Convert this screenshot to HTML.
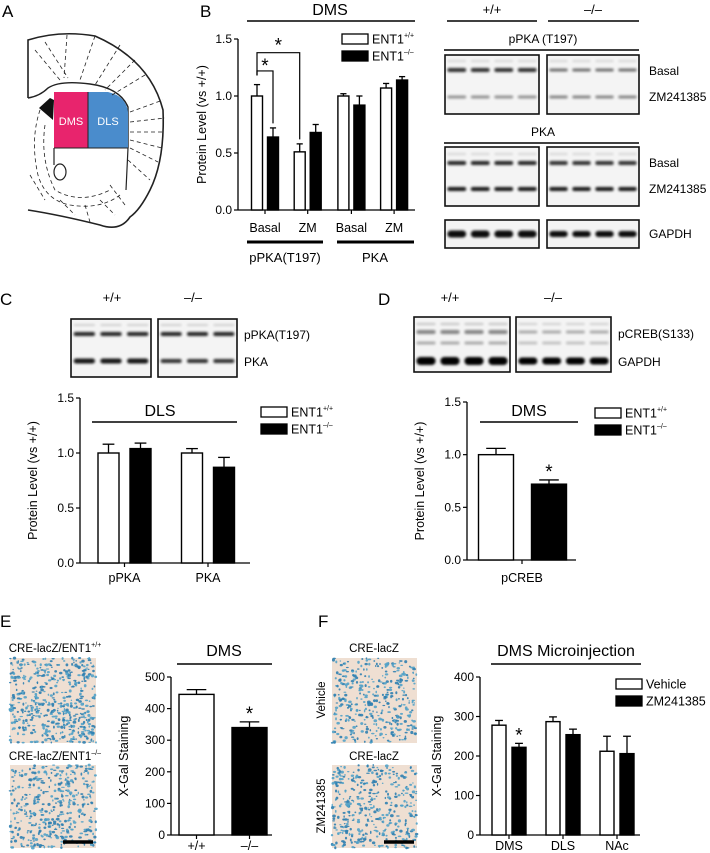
<!DOCTYPE html>
<html><head><meta charset="utf-8">
<style>
html,body{margin:0;padding:0;background:#fff;}
svg{display:block;font-family:"Liberation Sans",Arial,sans-serif;}
</style></head>
<body>
<svg id="fig" width="710" height="853" viewBox="0 0 710 853" xmlns="http://www.w3.org/2000/svg">
<defs>
<filter id="blur1" x="-20%" y="-80%" width="140%" height="260%"><feGaussianBlur stdDeviation="1.3"/></filter>
</defs>

<text x="2" y="17" font-size="17">A</text>
<text x="200" y="17" font-size="17">B</text>
<text x="0" y="305" font-size="17">C</text>
<text x="378" y="305" font-size="17">D</text>
<text x="0" y="627" font-size="17">E</text>
<text x="318" y="627" font-size="17">F</text>

<g fill="none" stroke="#222">
  <path d="M28,98 L28,40 Q60,30 95,36 Q150,60 163,110 Q165,160 150,190 Q140,210 130,217 Q120,232 100,225 Q60,215 28,210" stroke-width="1.6"/>
  <path d="M28,98 Q40,96 48,88 Q60,80 90,84 Q120,88 128,107 L128,148" stroke-width="1.4"/>
  <rect x="54" y="92" width="34" height="56" fill="#e8246d" stroke="none"/>
  <path d="M88,92 L108,92 Q126,96 128,112 L128,148 L88,148 Z" fill="#4a8ccc" stroke="none"/>
  <path d="M54,148 L128,148 M88,92 L88,148" stroke-width="1"/>
  <path d="M39,108 L50,98 L54,100 L53,120 Z" fill="#111" stroke="none"/>
  <ellipse cx="60" cy="172" rx="6" ry="8" stroke-width="1.2"/>
  <path d="M54,148 L54,165 M128,148 L126,190" stroke-width="1.2"/>
  <g stroke-dasharray="4,3" stroke-width="0.8">
    <path d="M35,50 L60,80 M45,42 L68,78 M67,35 L64,78 M95,36 L80,80 M120,45 L95,85 M135,60 L105,90 M145,75 L112,95"/>
    <path d="M130,112 L163,100 M130,122 L165,118 M130,132 L165,132 M130,140 L162,148 M130,148 L158,162 M128,160 L150,180"/>
    <path d="M40,110 Q30,140 38,175 Q45,200 70,205 Q100,210 120,195 M45,125 Q40,160 55,190 Q80,205 110,190"/>
    <path d="M30,175 L45,200 M60,200 L75,215 M85,205 L90,222 M100,200 L115,215 M110,185 L125,205"/>
  </g>
  <text x="71" y="125" font-size="11" fill="#fff" stroke="none" text-anchor="middle">DMS</text>
  <text x="108" y="125" font-size="11" fill="#fff" stroke="none" text-anchor="middle">DLS</text>
</g>

<g id="charts"></g>
<g id="blots"></g>
<g id="micro"></g>
</svg>

<script>
const bCategories = ['Basal','ZM','Basal','ZM'];
const bWT = [1.0, 0.51, 1.0, 1.07];
const bWTErr = [0.10, 0.07, 0.02, 0.04];
const bKO = [0.64, 0.68, 0.92, 1.14];
const bKOErr = [0.08, 0.07, 0.08, 0.03];
const bTicks = ['0.0','0.5','1.0','1.5'];

const cCategories = ['pPKA','PKA'];
const cWT = [1.0, 1.0];
const cWTErr = [0.08, 0.04];
const cKO = [1.04, 0.87];
const cKOErr = [0.05, 0.09];
const cTicks = ['0.0','0.5','1.0','1.5'];

const dCategories = ['pCREB'];
const dWT = [1.0];
const dWTErr = [0.06];
const dKO = [0.72];
const dKOErr = [0.04];
const dTicks = ['0.0','0.5','1.0','1.5'];

const eCategories = ['+/+','\u2013/\u2013'];
const eValues = [445, 340];
const eErr = [15, 18];
const eTicks = ['0','100','200','300','400','500'];

const fCategories = ['DMS','DLS','NAc'];
const fVehicle = [278, 287, 212];
const fVehicleErr = [12, 12, 38];
const fZM = [222, 254, 206];
const fZMErr = [10, 14, 44];
const fTicks = ['0','100','200','300','400'];

const NS = 'http://www.w3.org/2000/svg';
const charts = document.getElementById('charts');
function mk(tag, attrs, parent, txt){
  const e = document.createElementNS(NS, tag);
  for (const k in attrs) e.setAttribute(k, attrs[k]);
  if (txt !== undefined) e.textContent = txt;
  (parent||charts).appendChild(e);
  return e;
}

function axes(c){
  const g = mk('g', {});
  
  
  const yv = v => c.y0 - v / c.max * (c.y0 - c.y1);
  mk('line', {x1:c.ax, y1:c.y1, x2:c.ax, y2:c.y0, stroke:'#000','stroke-width':1.3}, g);
  mk('line', {x1:c.ax, y1:c.y0, x2:c.ax2, y2:c.y0, stroke:'#000','stroke-width':1.3}, g);
  c.ticks.forEach(t => {
    const y = yv(parseFloat(t));
    mk('line', {x1:c.ax-4, y1:y, x2:c.ax, y2:y, stroke:'#000','stroke-width':1.2}, g);
    const tl = mk('text', {x:c.ax-6, y:y+4, 'font-size':12, 'text-anchor':'end'}, g, t);
    
    
  });
  const yt = mk('text', {x:c.ylx, y:(c.y0+c.y1)/2, 'font-size':12.5, 'text-anchor':'middle', transform:`rotate(-90 ${c.ylx} ${(c.y0+c.y1)/2})`}, g, c.ytitle);
  
  
  c.cats.forEach((cat, i) => {
    const x = c.cx(i);
    mk('line', {x1:x, y1:c.y0, x2:x, y2:c.y0+4, stroke:'#000','stroke-width':1.2}, g);
    const xl = mk('text', {x:x, y:c.xly, 'font-size':12.5, 'text-anchor':'middle'}, g, cat);
    
    
  });
  return yv;
}

function bar(c, yv, x, w, v, err, black, nm){
  const y = yv(v), ye = yv(v + err);
  const l = mk('line', {x1:x, y1:y, x2:x, y2:ye, stroke:'#000','stroke-width':1.3});
  
  
  mk('line', {x1:x-w*0.28, y1:ye, x2:x+w*0.28, y2:ye, stroke:'#000','stroke-width':1.3});
  const r = mk('rect', {x:x-w/2, y:y, width:w, height:c.y0-y, fill:black?'#000':'#fff', stroke:'#000','stroke-width':1.4});
  
  
}

function legend(x, y, h, labels, supers, nm){
  labels.forEach((lb, i) => {
    const yy = y + i * (h + 7);
    const r = mk('rect', {x:x, y:yy, width:26, height:h, fill:i?'#000':'#fff', stroke:'#000','stroke-width':1.3});
    
    
    const t = mk('text', {x:x+30, y:yy+h-0.5, 'font-size':12.5}, undefined, lb);
    
    
    if (supers) { mk('tspan', {'font-size':7, dy:-6}, t, supers[i]); }
  });
}

function title(cx, y, lx1, lx2, ly, txt, nm){
  const t = mk('text', {x:cx, y:y, 'font-size':16, 'text-anchor':'middle'}, undefined, txt);
  
  
  mk('line', {x1:lx1, y1:ly, x2:lx2, y2:ly, stroke:'#000','stroke-width':1.6});
}
function star(x, y){ mk('text', {x:x, y:y+3, 'font-size':19, 'text-anchor':'middle'}, undefined, '*'); }

(function(){
  const c = {name:'b-chart', ax:238, ax2:415, y0:210, y1:39, max:1.5, ticks:bTicks, ylx:206, ytitle:'Protein Level (vs +/+)', cats:bCategories, cx:i=>265+i*42.7+(i>=2?1:0), xly:232};
  const yv = axes(c);
  bCategories.forEach((_, i) => {
    bar(c, yv, c.cx(i)-8, 11, bWT[i], bWTErr[i], false, 'b-bar-wt-' + i);
    bar(c, yv, c.cx(i)+8, 11, bKO[i], bKOErr[i], true, 'b-bar-ko-' + i);
  });
  title(330, 15, 247, 415, 21, 'DMS', 'b-chart');
  legend(342, 34, 10, ['ENT1','ENT1'], ['+/+','\u2013/\u2013'], 'b-chart');
  mk('line', {x1:247, y1:242, x2:323, y2:242, stroke:'#000','stroke-width':3});
  mk('line', {x1:337, y1:242, x2:414, y2:242, stroke:'#000','stroke-width':3});
  mk('text', {x:285, y:262, 'font-size':13, 'text-anchor':'middle'}, undefined, 'pPKA(T197)');
  mk('text', {x:375, y:262, 'font-size':13, 'text-anchor':'middle'}, undefined, 'PKA');
  const x1 = c.cx(0)-8, x2 = c.cx(0)+8, x3 = c.cx(1)-8;
  mk('path', {d:`M${x1},${yv(1.18)} L${x1},${yv(1.38)} L${x3},${yv(1.38)} L${x3},${yv(0.62)}`, fill:'none', stroke:'#000','stroke-width':1.2});
  mk('path', {d:`M${x1},${yv(1.18)} L${x1},${yv(1.22)} L${x2},${yv(1.22)} L${x2},${yv(0.76)}`, fill:'none', stroke:'#000','stroke-width':1.2});
  star((x1+x2)/2, yv(1.22)-2);
  star((x1+x3)/2, yv(1.38)-4);
})();

(function(){
  const c = {name:'c-chart', ax:80, ax2:250, y0:563, y1:398, max:1.5, ticks:cTicks, ylx:37, ytitle:'Protein Level (vs +/+)', cats:cCategories, cx:i=>124.5+i*83.5, xly:582};
  const yv = axes(c);
  cCategories.forEach((_, i) => {
    bar(c, yv, c.cx(i)-16, 21, cWT[i], cWTErr[i], false, 'c-bar-wt-' + i);
    bar(c, yv, c.cx(i)+16, 21, cKO[i], cKOErr[i], true, 'c-bar-ko-' + i);
  });
  title(160, 416, 92, 237, 422, 'DLS', 'c-chart');
  legend(261, 407, 10, ['ENT1','ENT1'], ['+/+','\u2013/\u2013'], 'c-chart');
})();

(function(){
  const c = {name:'d-chart', ax:467, ax2:576, y0:560, y1:402, max:1.5, ticks:dTicks, ylx:424, ytitle:'Protein Level (vs +/+)', cats:dCategories, cx:i=>522+i*50, xly:582};
  const yv = axes(c);
  dCategories.forEach((_, i) => {
    bar(c, yv, c.cx(i)-26, 35, dWT[i], dWTErr[i], false, 'd-bar-wt-' + i);
    bar(c, yv, c.cx(i)+27, 35, dKO[i], dKOErr[i], true, 'd-bar-ko-' + i);
    star(c.cx(i)+27, yv(dKO[i]+dKOErr[i])-5);
  });
  title(529, 416, 480, 578, 422, 'DMS', 'd-chart');
  legend(595, 408, 10, ['ENT1','ENT1'], ['+/+','\u2013/\u2013'], 'd-chart');
})();

(function(){
  const c = {name:'e-chart', ax:171, ax2:272, y0:835, y1:677, max:500, ticks:eTicks, ylx:128, ytitle:'X-Gal Staining', cats:eCategories, cx:i=>196.5+i*53, xly:850};
  const yv = axes(c);
  eCategories.forEach((_, i) => {
    bar(c, yv, c.cx(i), 35, eValues[i], eErr[i], i===1, 'e-bar-' + i);
  });
  star(c.cx(1), yv(eValues[1]+eErr[1])-5);
  title(224, 656, 177, 272, 664, 'DMS', 'e-chart');
})();

(function(){
  const c = {name:'f-chart', ax:480, ax2:640, y0:835, y1:677, max:400, ticks:fTicks, ylx:441, ytitle:'X-Gal Staining', cats:fCategories, cx:i=>509+i*54, xly:850};
  const yv = axes(c);
  fCategories.forEach((_, i) => {
    bar(c, yv, c.cx(i)-10, 14, fVehicle[i], fVehicleErr[i], false, 'f-bar-vehicle-' + i);
    bar(c, yv, c.cx(i)+10, 14, fZM[i], fZMErr[i], true, 'f-bar-zm-' + i);
  });
  star(c.cx(0)+10, yv(fZM[0]+fZMErr[0])-5);
  title(566, 656, 491, 641, 664, 'DMS Microinjection', 'f-chart');
  legend(616, 679, 10, ['Vehicle','ZM241385'], null, 'f-chart');
})();

const blots = document.getElementById('blots');
function txt(x, y, s, size, anchor, nm){
  const t = mk('text', {x:x, y:y, 'font-size':size, 'text-anchor':anchor||'start'}, blots, s);
  
  
  return t;
}
function blot(x, y, w, h, lanes, bands, nm){
  const g = mk('g', {}, blots);
  
  
  mk('rect', {x:x, y:y, width:w, height:h, fill:'#f4f4f4', stroke:'#111', 'stroke-width':1.6}, g);
  const lw = w / lanes;
  bands.forEach(b => {
    for (let i = 0; i < lanes; i++){
      const bx = x + lw*i + lw*0.1;
      mk('rect', {x:bx, y:y+b.y-b.h/2, width:lw*0.8, height:b.h, rx:b.h/2, fill:'#000', opacity:b.o, filter:'url(#blur1)'}, g);
    }
  });
}
txt(492, 14, '+/+', 13, 'middle', 'b-blot-wt-label');
txt(593, 14, '\u2013/\u2013', 13, 'middle', 'b-blot-ko-label');
mk('line', {x1:447, y1:21, x2:537, y2:21, stroke:'#000', 'stroke-width':1.6}, blots);
mk('line', {x1:548, y1:21, x2:639, y2:21, stroke:'#000', 'stroke-width':1.6}, blots);
txt(543, 43, 'pPKA (T197)', 12, 'middle', 'b-blot-ppka-title');
mk('line', {x1:444, y1:50, x2:639, y2:50, stroke:'#000', 'stroke-width':1.6}, blots);
blot(445, 55, 94, 59, 4, [{y:6,h:2,o:0.12},{y:15,h:4,o:0.8},{y:42,h:3,o:0.4}], 'b-blot-ppka-wt');
blot(547, 55, 92, 59, 4, [{y:6,h:2,o:0.12},{y:15,h:3,o:0.55},{y:42,h:3,o:0.45}], 'b-blot-ppka-ko');
txt(649, 75, 'Basal', 12, 'start', 'b-blot-label-basal');
txt(649, 101, 'ZM241385', 12, 'start', 'b-blot-label-zm');
txt(543, 136, 'PKA', 12, 'middle', 'b-blot-pka-title');
mk('line', {x1:444, y1:143, x2:639, y2:143, stroke:'#000', 'stroke-width':1.6}, blots);
blot(445, 147, 94, 59, 4, [{y:7,h:2,o:0.12},{y:16,h:4,o:0.85},{y:42,h:4,o:0.9}], 'b-blot-pka-wt');
blot(547, 147, 92, 59, 4, [{y:7,h:2,o:0.12},{y:16,h:4,o:0.8},{y:42,h:4,o:0.9}], 'b-blot-pka-ko');
txt(649, 167, 'Basal', 12, 'start', 'b-blot-label-basal-2');
txt(649, 193, 'ZM241385', 12, 'start', 'b-blot-label-zm-2');
blot(445, 220, 94, 28, 4, [{y:14,h:7,o:0.95}], 'b-blot-gapdh-wt');
blot(547, 220, 92, 28, 4, [{y:14,h:6,o:0.95}], 'b-blot-gapdh-ko');
txt(649, 238, 'GAPDH', 12, 'start', 'b-blot-label-gapdh');

txt(112, 302, '+/+', 13, 'middle', 'c-blot-wt-label');
txt(193, 302, '\u2013/\u2013', 13, 'middle', 'c-blot-ko-label');
blot(71, 319, 80, 58, 3, [{y:6,h:2,o:0.15},{y:15,h:4,o:0.85},{y:42,h:5,o:0.9}], 'c-blot-wt');
blot(158, 319, 79, 58, 3, [{y:6,h:2,o:0.15},{y:15,h:4,o:0.85},{y:42,h:4,o:0.8}], 'c-blot-ko');
txt(244, 339, 'pPKA(T197)', 12, 'start', 'c-blot-label-ppka');
txt(244, 366, 'PKA', 12, 'start', 'c-blot-label-pka');

txt(450, 302, '+/+', 13, 'middle', 'd-blot-wt-label');
txt(553, 302, '\u2013/\u2013', 13, 'middle', 'd-blot-ko-label');
blot(414, 317, 96, 55, 4, [{y:7,h:2,o:0.2},{y:15,h:4,o:0.45},{y:26,h:3,o:0.3},{y:44,h:8,o:1}], 'd-blot-wt');
blot(516, 317, 95, 55, 4, [{y:7,h:2,o:0.15},{y:15,h:3,o:0.3},{y:26,h:3,o:0.2},{y:44,h:7,o:1}], 'd-blot-ko');
txt(618, 338, 'pCREB(S133)', 12, 'start', 'd-blot-label-pcreb');
txt(618, 366, 'GAPDH', 12, 'start', 'd-blot-label-gapdh');

const micro = document.getElementById('micro');
let seed = 7;
function rnd(){ seed = (seed * 16807) % 2147483647; return (seed - 1) / 2147483646; }
function micrograph(x, y, w, h, n, nm, bar){
  const g = mk('g', {}, micro);
  
  
  mk('rect', {x:x, y:y, width:w, height:h, fill:'#efdfd2'}, g);
  for (let i = 0; i < n; i++){
    mk('ellipse', {cx:x+rnd()*w, cy:y+rnd()*h, rx:0.7+rnd()*1.2, ry:0.6+rnd()*1.0, fill:rnd()<0.5?'#2f7fb0':'#52a2c8', opacity:0.9}, g);
  }
  if (bar) mk('line', {x1:x+w-33, y1:y+h-6, x2:x+w-3, y2:y+h-6, stroke:'#000', 'stroke-width':3.5}, g);
}
micrograph(10, 658, 86, 85, 520, 'e-micrograph-wt');
micrograph(10, 765, 86, 83, 420, 'e-micrograph-ko', true);
micrograph(332, 658, 85, 85, 380, 'f-micrograph-vehicle');
micrograph(332, 765, 85, 83, 400, 'f-micrograph-zm', true);
const eL1 = mk('text', {x:55, y:652, 'font-size':11.5, 'text-anchor':'middle'}, micro, 'CRE-lacZ/ENT1');
mk('tspan', {'font-size':7, dy:-5}, eL1, '+/+');
const eL2 = mk('text', {x:55, y:760, 'font-size':11.5, 'text-anchor':'middle'}, micro, 'CRE-lacZ/ENT1');
mk('tspan', {'font-size':7, dy:-5}, eL2, '\u2013/\u2013');
mk('text', {x:374, y:652, 'font-size':11.5, 'text-anchor':'middle'}, micro, 'CRE-lacZ');
mk('text', {x:374, y:760, 'font-size':11.5, 'text-anchor':'middle'}, micro, 'CRE-lacZ');
mk('text', {x:325, y:700, 'font-size':11.5, 'text-anchor':'middle', transform:'rotate(-90 325 700)'}, micro, 'Vehicle');
mk('text', {x:325, y:806, 'font-size':11.5, 'text-anchor':'middle', transform:'rotate(-90 325 806)'}, micro, 'ZM241385');
</script>
</body></html>
